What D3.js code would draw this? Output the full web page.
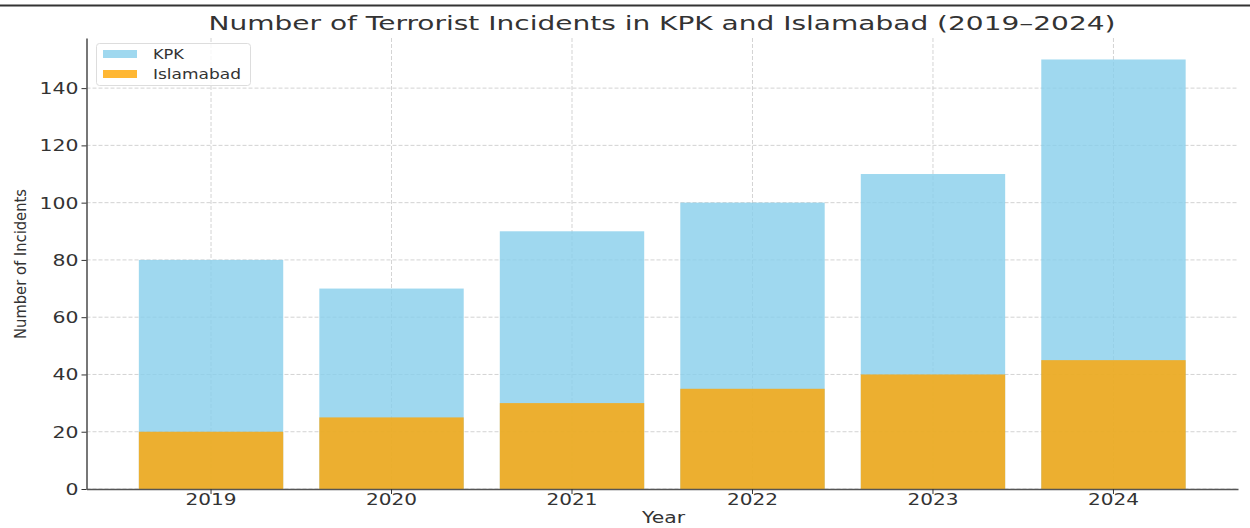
<!DOCTYPE html>
<html><head><meta charset="utf-8">
<script src="https://cdn.jsdelivr.net/npm/d3@7"></script>
<style>body{margin:0;background:#fff}svg{display:block}</style>
</head><body>
<svg id="c" width="1250" height="528"></svg>
<script>
const years = ["2019","2020","2021","2022","2023","2024"];
const kpk = [80,70,90,100,110,150];
const islamabad = [20,25,30,35,40,45];
const yTicks = [0,20,40,60,80,100,120,140];
const seriesNames = ["KPK","Islamabad"];
const seriesColors = ["#87CEEB","#FFA500"];

const svg = d3.select("#c");
const font = "DejaVu Sans";
const pLeft = 86.5, pRight = 1238, pTop = 38, pBottom = 489;

// top frame line
svg.append("line").attr("x1",0).attr("x2",1250).attr("y1",5.5).attr("y2",5.5)
  .attr("stroke","#333").attr("stroke-width",2);

const x = d3.scaleBand().domain(years).range([pLeft,pRight]).paddingInner(0.2).paddingOuter(0.29);
const y = d3.scaleLinear().domain([0,157.5]).range([pBottom,pTop]);

// grid
const g = svg.append("g");
g.selectAll(".hg").data(yTicks).join("line")
  .attr("x1",pLeft).attr("x2",pRight).attr("y1",d=>y(d)).attr("y2",d=>y(d))
  .attr("stroke","#c8c8c8").attr("stroke-width",0.8).attr("stroke-dasharray","4,2");
g.selectAll(".vg").data(years).join("line")
  .attr("x1",d=>x(d)+x.bandwidth()/2).attr("x2",d=>x(d)+x.bandwidth()/2)
  .attr("y1",pTop).attr("y2",pBottom)
  .attr("stroke","#c8c8c8").attr("stroke-width",0.8).attr("stroke-dasharray","4,2");

// bars (overlapping)
[kpk, islamabad].forEach((vals,si)=>{
  svg.append("g").selectAll("rect").data(vals).join("rect")
    .attr("x",(d,i)=>x(years[i])).attr("width",x.bandwidth())
    .attr("y",d=>y(d)).attr("height",d=>y(0)-y(d))
    .attr("fill",seriesColors[si]).attr("fill-opacity",0.8);
});

// axes
const ax = svg.append("g").attr("transform",`translate(0,${pBottom})`)
  .call(d3.axisBottom(x).tickSize(5).tickSizeOuter(0));
const ay = svg.append("g").attr("transform",`translate(${pLeft},0)`)
  .call(d3.axisLeft(y).tickValues(yTicks).tickSize(5).tickSizeOuter(0));
[ax,ay].forEach(a=>{
  a.select(".domain").attr("stroke","#555").attr("stroke-width",1.6);
  a.selectAll(".tick line").attr("stroke","#333").attr("stroke-width",1);
  a.selectAll("text").attr("font-family",font).attr("fill","#333");
});
ax.selectAll("text").attr("font-size",16).attr("dy",0).attr("y",16)
  .attr("textLength",51).attr("lengthAdjust","spacingAndGlyphs");
ay.selectAll("text").attr("font-size",15).attr("x",-8).attr("dy","0.36em")
  .each(function(d){ d3.select(this).attr("textLength", String(d).length*13).attr("lengthAdjust","spacingAndGlyphs"); });

// title
svg.append("text").attr("x",662).attr("y",30).attr("text-anchor","middle")
  .attr("font-family",font).attr("font-size",19.5).attr("fill","#333")
  .attr("textLength",907).attr("lengthAdjust","spacingAndGlyphs")
  .text("Number of Terrorist Incidents in KPK and Islamabad (2019–2024)");

// axis labels
svg.append("text").attr("x",663.5).attr("y",523).attr("text-anchor","middle")
  .attr("font-family",font).attr("font-size",16).attr("fill","#333")
  .attr("textLength",43).attr("lengthAdjust","spacingAndGlyphs").text("Year");
svg.append("text").attr("transform","translate(26,264) rotate(-90)").attr("text-anchor","middle")
  .attr("font-family",font).attr("font-size",16).attr("fill","#333")
  .attr("textLength",150).attr("lengthAdjust","spacingAndGlyphs").text("Number of Incidents");

// legend
const legendLens = [31,88];
const lg = svg.append("g");
lg.append("rect").attr("x",96.5).attr("y",43.5).attr("width",154).attr("height",42).attr("rx",3)
  .attr("fill","#fff").attr("fill-opacity",0.8).attr("stroke","#ddd");
seriesNames.forEach((n,i)=>{
  lg.append("rect").attr("x",103).attr("y",50+i*20).attr("width",34).attr("height",8)
    .attr("fill",seriesColors[i]).attr("fill-opacity",0.8);
  lg.append("text").attr("x",153).attr("y",59+i*20).attr("font-family",font).attr("font-size",13.5)
    .attr("fill","#333").attr("textLength",legendLens[i]).attr("lengthAdjust","spacingAndGlyphs").text(n);
});
</script>
</body></html>
